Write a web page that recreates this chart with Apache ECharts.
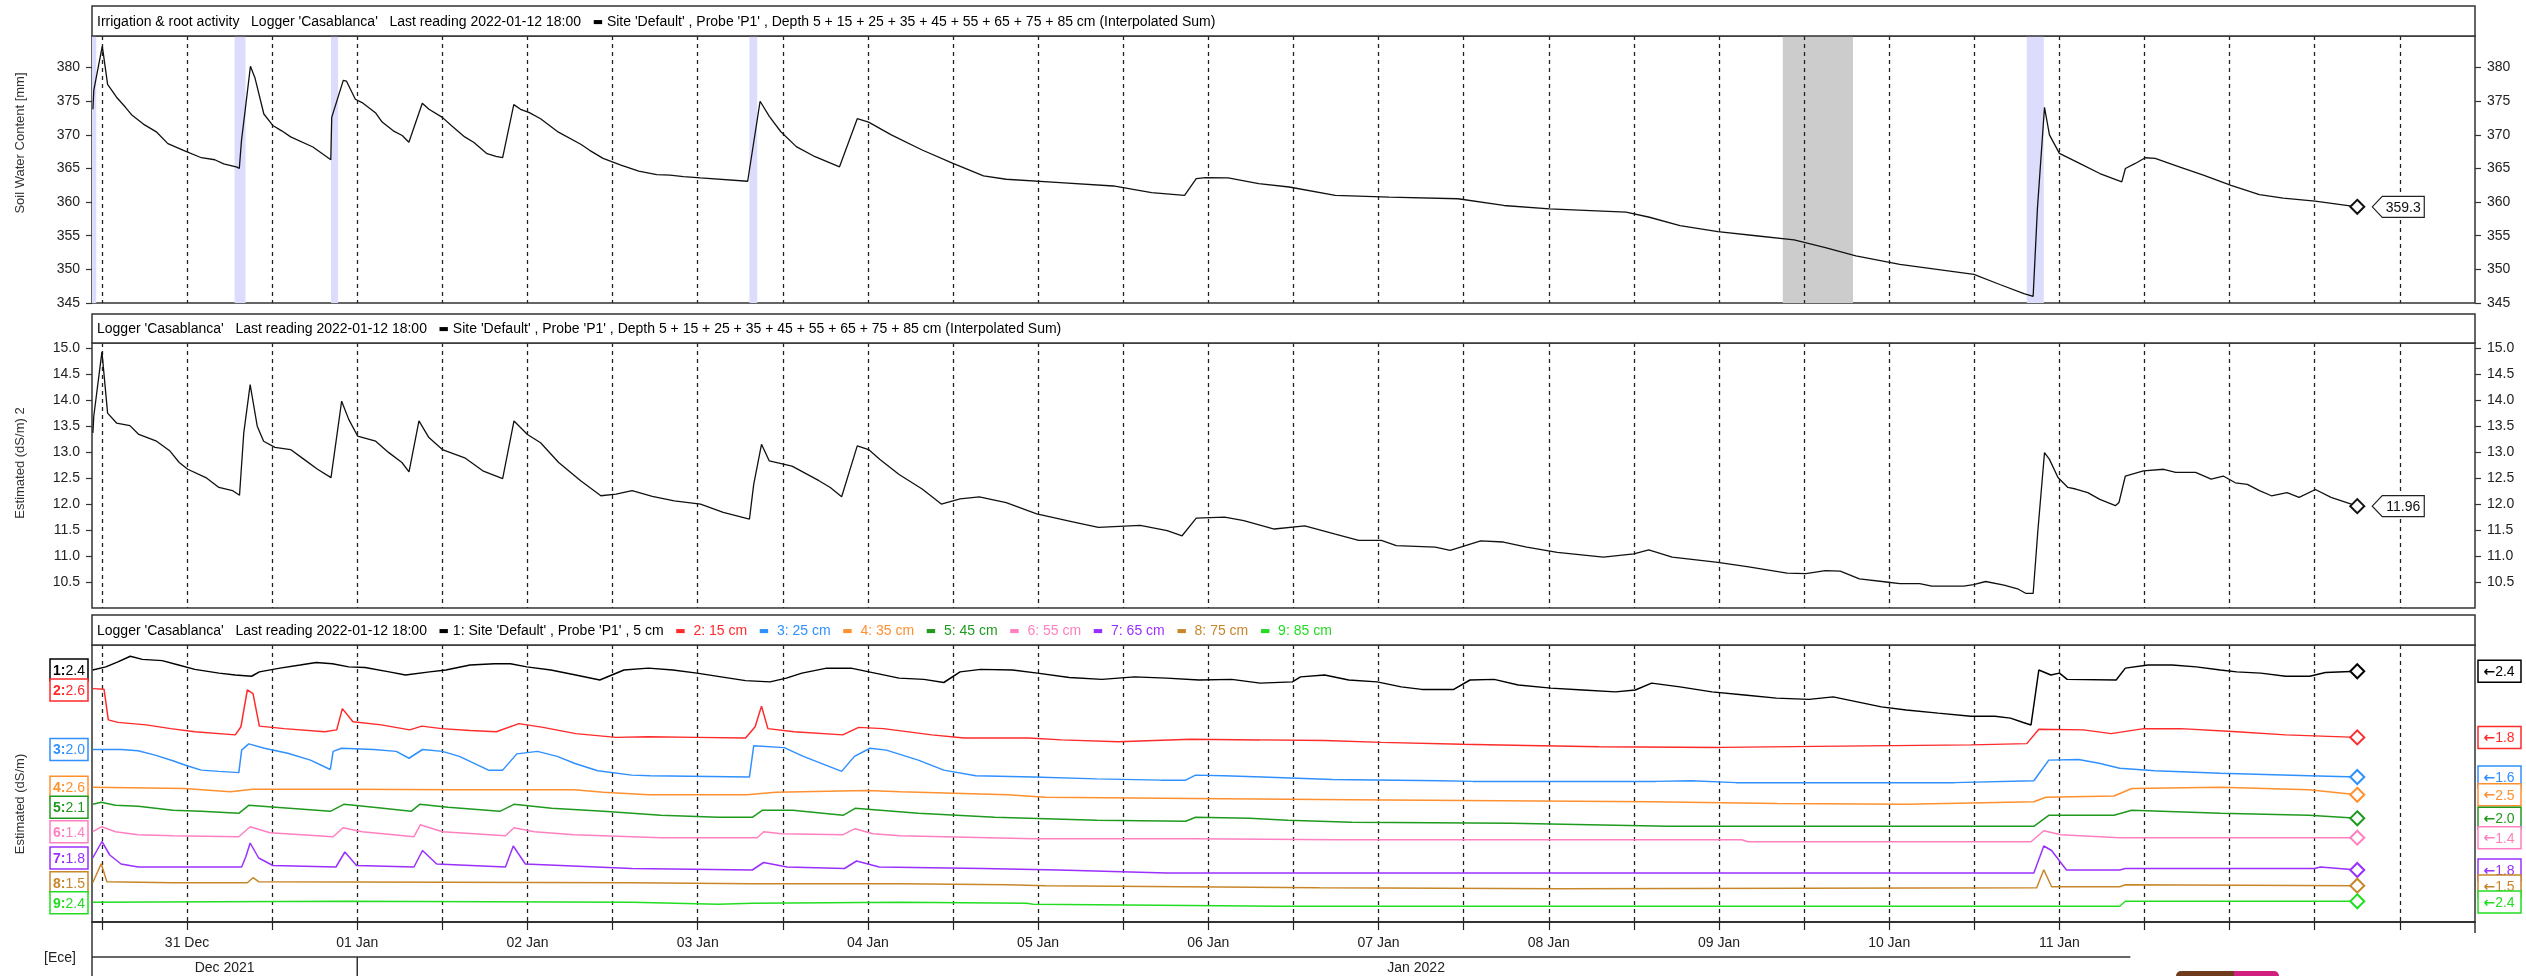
<!DOCTYPE html>
<html>
<head>
<meta charset="utf-8">
<script src="https://cdn.jsdelivr.net/npm/echarts@6/dist/echarts.min.js"></script>
<style>
html, body { margin: 0; padding: 0; background: #fff; }
#main { width: 2526px; height: 976px; }
</style>
</head>
<body>
<div id="main"></div>
<script>
// x values are hours counted from 2021-12-30 00:00
var xStartHour = 10.6, xEndHour = 346.6, lastHour = 330;
var gridHours = [];
for (var g = 12; g <= 336; g += 12) gridHours.push(g);
var dayLabels = ['31 Dec', '01 Jan', '02 Jan', '03 Jan', '04 Jan', '05 Jan', '06 Jan', '07 Jan', '08 Jan', '09 Jan', '10 Jan', '11 Jan'];
var dayLabelHours = [24, 48, 72, 96, 120, 144, 168, 192, 216, 240, 264, 288];
var monthLabels = ['Dec 2021', 'Jan 2022'];
var monthEdgeHours = [10.6, 48, 346.6];

// irrigation events (blue) and the grey period
var irrigationStart = [10.6, 30.7, 44.3, 103.3, 283.4];
var irrigationEnd = [11.2, 32.25, 45.3, 104.4, 285.8];
var greyStart = [249.0];
var greyEnd = [258.9];

// soil water content, sum of depths [mm]
var swcHours = [10.73,10.85,12.05,12.8,14.06,15.32,16.26,17.84,19.73,21.3,23.5,26.02,27.91,29.17,31.05,31.37,31.68,32.19,32.94,33.57,34.83,36.09,37.35,38.61,41.75,44.27,44.4,46.03,46.47,47.73,48.68,50.56,51.51,53.08,54.34,55.28,57.17,58.11,60.0,61.26,63.15,64.41,66.3,67.56,68.5,70.07,71.02,72.27,73.85,76.37,79.51,80.77,82.66,85.18,87.69,90.21,92.1,93.99,
  96.4,103.05,104.8,106.1,107.7,109.9,112.55,116.0,118.5,120.1,123.3,127.65,132.0,136.3,139.5,147.1,154.6,160.0,164.65,166.3,167.6,170.8,175.1,179.4,185.9,193.5,203.2,209.65,216.1,226.9,230.2,234.5,239.85,245.2,250.6,255.0,259.3,265.5,
  275.95,279.6,283.0,284.3,284.9,285.9,286.6,288.0,290.85,293.7,296.8,297.3,298.7,300.1,301.5,304.9,308.3,312.2,316.2,319.55,324.05,330];
var swcValues = [373.8,376.6,383.2,377.5,375.6,374.1,372.9,371.6,370.4,368.7,367.7,366.6,366.3,365.7,365.2,365.0,369.2,373.6,380.2,378.5,373.1,371.4,370.6,369.7,368.2,366.3,372.6,378.1,378.0,375.3,374.8,373.3,371.9,370.6,369.9,368.9,374.7,373.8,372.6,371.4,369.7,368.9,367.2,366.8,366.6,374.5,373.8,373.3,372.4,370.4,368.6,367.7,366.5,365.5,364.6,364.1,364.0,363.8,
  363.6,363.1,375.0,372.75,370.5,368.25,366.75,365.25,372.4,371.9,370.0,367.75,365.75,363.9,363.4,362.9,362.4,361.4,361.0,363.5,363.65,363.6,362.75,362.25,361.0,360.75,360.5,359.5,359.0,358.5,357.75,356.5,355.6,355.0,354.4,353.25,352.0,350.75,
  349.25,347.75,346.4,346.0,359.0,374.1,370.0,367.25,365.75,364.25,363.0,365.0,365.75,366.6,366.5,365.25,364.0,362.5,361.1,360.6,360.15,359.3];

// estimated EC, sum of depths [dS/m]
var ecHours = [10.73,10.85,12.0,12.8,14.06,15.95,17.2,19.7,21.6,22.9,24.1,26.65,28.5,30.4,31.4,32.0,32.9,33.9,34.8,36.4,38.6,40.5,42.4,44.3,45.8,46.8,48.05,50.6,52.45,54.3,55.3,56.7,58.1,60.0,63.15,65.7,68.5,70.1,72.0,73.85,76.4,79.5,82.35,84.5,86.75,89.6,92.7,
  96.4,99.6,103.3,103.9,105.0,106.1,109.3,113.1,114.7,116.3,118.5,120.1,121.7,124.4,127.65,130.35,133.0,135.7,139.5,143.8,149.2,152.5,158.4,162.2,164.3,166.3,170.3,173.0,177.3,181.6,185.9,189.2,192.4,194.5,200.0,202.1,206.4,209.6,212.9,217.2,223.7,228.0,230.1,233.4,239.85,244.2,249.6,252.25,255.0,257.1,259.8,263.6,
  265.5,268.3,270.0,274.5,275.9,277.6,280.2,282.1,283.3,284.3,284.95,285.9,286.6,287.8,289.2,290.3,292.0,293.7,295.9,296.4,297.3,299.85,302.7,304.4,307.2,309.4,311.1,312.8,314.5,316.2,317.9,320.1,321.8,324.1,326.3,330];
var ecValues = [13.37,13.69,14.93,13.75,13.56,13.51,13.34,13.21,13.02,12.8,12.67,12.51,12.32,12.26,12.17,13.37,14.30,13.5,13.21,13.09,13.05,12.86,12.67,12.51,13.98,13.63,13.31,13.21,12.99,12.8,12.62,13.6,13.28,13.05,12.89,12.64,12.49,13.6,13.34,13.18,12.8,12.45,12.16,12.19,12.26,12.15,12.06,
  12.0,11.84,11.71,12.38,13.15,12.83,12.73,12.45,12.32,12.14,13.12,13.05,12.86,12.57,12.29,12.0,12.1,12.14,12.03,11.81,11.65,11.55,11.59,11.49,11.39,11.73,11.75,11.68,11.52,11.58,11.42,11.3,11.3,11.2,11.17,11.11,11.29,11.27,11.17,11.07,10.98,11.04,11.12,10.98,10.88,10.79,10.67,10.66,10.72,10.71,10.56,10.5,
  10.47,10.47,10.42,10.42,10.45,10.51,10.44,10.37,10.28,10.28,11.46,12.99,12.86,12.51,12.32,12.29,12.22,12.09,11.97,12.03,12.54,12.64,12.67,12.61,12.61,12.48,12.54,12.41,12.38,12.26,12.16,12.22,12.13,12.28,12.13,11.96];

// estimated EC per depth [dS/m]
var depthCm = [5, 15, 25, 35, 45, 55, 65, 75, 85];
var d5Hours = [10.7,12.55,14.25,16.0,17.7,20.5,22.8,25.1,28.5,30.8,33.1,34.2,37.1,39.95,42.2,44.5,46.8,49.1,52.5,54.8,58.2,60.5,63.9,67.35,69.6,71.9,75.3,78.8,82.2,85.6,89.05,92.5,95.9,99.3,102.75,106.2,108.5,110.7,114.2,117.6,121.0,124.4,127.9,130.7,133.0,135.9,140.4,143.9,148.4,153.0,157.6,162.1,166.7,171.3,
  175.3,179.85,181.0,184.4,187.8,191.8,195.2,198.1,202.6,204.9,208.3,211.7,216.3,220.8,225.4,228.2,230.5,234.5,239.0,243.6,248.1,252.7,256.1,259.5,262.9,266.4,270.9,275.5,278.9,281.1,282.9,284.0,285.1,286.8,288.0,289.1,296.0,297.3,300.5,303.9,307.3,310.7,313.0,316.4,319.9,323.3,325.5,330];
var d5Values = [2.40,2.45,2.53,2.62,2.57,2.55,2.48,2.41,2.35,2.32,2.30,2.37,2.43,2.48,2.52,2.50,2.45,2.44,2.37,2.32,2.37,2.40,2.48,2.50,2.50,2.45,2.40,2.32,2.24,2.40,2.43,2.40,2.35,2.29,2.23,2.21,2.27,2.35,2.43,2.43,2.35,2.27,2.25,2.20,2.37,2.41,2.40,2.35,2.28,2.25,2.29,2.27,2.24,2.25,
  2.19,2.21,2.29,2.32,2.24,2.21,2.13,2.09,2.09,2.24,2.25,2.16,2.11,2.08,2.05,2.08,2.19,2.13,2.05,2.0,1.95,1.93,1.97,1.89,1.81,1.76,1.71,1.66,1.66,1.63,1.56,1.52,2.40,2.32,2.35,2.25,2.24,2.43,2.48,2.48,2.45,2.40,2.37,2.35,2.30,2.30,2.36,2.38];
var d15Hours = [10.7,12.3,12.9,14.25,18.25,21.7,25.1,30.8,31.6,32.5,33.3,34.2,37.7,43.4,45.1,45.9,47.4,51.4,55.4,57.1,59.9,63.9,67.6,70.8,74.2,78.8,84.5,89.05,95.9,102.75,104.1,105.0,105.9,109.6,116.45,118.7,122.2,129.0,133.6,142.7,147.3,155.3,165.5,
  175.3,184.4,192.4,203.75,212.9,223.1,240.2,257.2,275.5,283.4,285.1,291.4,295.3,299.9,305.1,313.0,319.9,330];
var d15Values = [2.59,2.58,2.09,2.05,2.01,1.95,1.90,1.85,1.98,2.57,2.51,1.99,1.95,1.90,1.93,2.27,2.06,2.01,1.93,1.99,1.95,1.92,1.90,2.03,1.97,1.87,1.81,1.82,1.81,1.80,1.98,2.31,1.95,1.90,1.85,1.97,1.95,1.85,1.80,1.80,1.77,1.74,1.78,
  1.77,1.76,1.73,1.70,1.68,1.66,1.65,1.67,1.69,1.71,1.94,1.93,1.87,1.95,1.95,1.90,1.85,1.81];
var d25Hours = [10.7,14.7,17.1,19.5,22.0,24.0,26.0,28.5,31.3,31.7,32.7,34.9,38.2,41.4,44.2,44.6,45.8,50.3,53.5,55.3,57.2,60.0,62.4,66.5,68.5,70.5,73.4,76.2,78.6,81.9,86.7,89.3,103.3,103.9,108.2,110.9,116.3,118.1,120.3,122.6,127.1,130.7,135.2,143.3,152.3,161.3,164.8,166.2,170.2,175.6,185.5,200.8,205.3,223.2,231.1,236.1,242.4,273.2,284.4,286.5,290.7,293.6,296.5,301.5,310.7,323.2,330];
var d25Values = [2.04,2.04,2.02,1.95,1.86,1.78,1.71,1.69,1.67,2.03,2.13,2.06,1.98,1.87,1.72,2.01,2.06,2.04,2.01,1.90,2.04,2.01,1.93,1.71,1.71,1.97,2.01,1.93,1.82,1.70,1.63,1.62,1.60,2.10,2.07,1.93,1.69,1.93,2.06,2.03,1.87,1.71,1.62,1.60,1.57,1.55,1.55,1.63,1.62,1.60,1.56,1.54,1.53,1.53,1.53,1.54,1.51,1.51,1.54,1.87,1.88,1.82,1.74,1.70,1.66,1.62,1.60];
var d35Hours = [10.7,23.6,30.1,33.3,46.3,62.4,78.6,82.7,89.1,102.9,107.0,119.9,124.6,139.7,145.1,165.7,188.2,230.3,248.2,266.5,284.4,286.1,295.7,298.2,310.7,323.2,330];
var d35Values = [2.60,2.58,2.53,2.57,2.57,2.56,2.56,2.52,2.48,2.48,2.52,2.55,2.53,2.48,2.44,2.42,2.40,2.37,2.34,2.33,2.37,2.44,2.46,2.58,2.60,2.56,2.48];
var d45Hours = [10.7,11.9,13.9,17.1,22.0,26.0,31.3,32.7,36.5,44.2,46.1,50.3,55.6,56.8,60.8,68.1,70.1,75.4,82.7,90.8,98.9,103.7,105.1,109.4,116.5,118.2,127.1,137.9,152.3,164.8,166.2,173.8,179.2,188.2,210.7,232.8,264.9,284.4,286.5,295.7,298.2,310.7,323.2,330];
var d45Values = [2.11,2.13,2.10,2.09,2.05,2.04,2.02,2.10,2.08,2.04,2.11,2.08,2.04,2.11,2.08,2.04,2.11,2.07,2.04,2.00,1.98,1.98,2.05,2.05,2.00,2.07,2.02,1.98,1.95,1.94,1.98,1.97,1.95,1.93,1.92,1.89,1.89,1.89,2.00,2.00,2.05,2.02,2.00,1.97];
var d55Hours = [10.7,12.0,13.9,17.1,22.0,31.3,32.9,35.7,44.6,46.0,48.7,56.0,56.9,60.0,68.9,70.1,73.0,78.6,90.8,104.4,105.3,107.8,116.5,118.2,120.7,124.6,143.3,165.7,186.4,243.2,244.1,284.0,285.8,288.2,296.5,330];
var d55Values = [1.43,1.48,1.43,1.40,1.39,1.38,1.48,1.42,1.38,1.47,1.43,1.38,1.50,1.43,1.39,1.47,1.43,1.40,1.37,1.37,1.43,1.41,1.40,1.46,1.41,1.39,1.36,1.36,1.35,1.35,1.33,1.33,1.44,1.40,1.37,1.37];
var d65Hours = [10.7,12.0,13.1,14.7,17.1,31.7,32.3,32.9,34.1,36.1,45.0,46.25,47.9,56.0,57.2,59.2,68.9,70.0,71.7,86.7,103.7,105.3,108.6,116.7,118.4,121.6,136.1,146.9,162.1,233.2,284.4,285.8,286.9,289.0,296.5,297.3,324.0,324.8,330];
var d65Values = [1.84,1.95,1.86,1.80,1.78,1.78,1.85,1.94,1.84,1.79,1.78,1.88,1.79,1.78,1.89,1.80,1.78,1.92,1.80,1.77,1.76,1.81,1.78,1.77,1.82,1.78,1.77,1.76,1.74,1.74,1.74,1.92,1.89,1.76,1.76,1.77,1.77,1.78,1.76];
var d75Hours = [10.7,11.9,12.7,22.0,32.5,33.3,34.1,86.7,103.7,124.6,139.7,145.1,183.7,217.9,284.8,285.8,286.9,296.5,297.3,330];
var d75Values = [1.52,1.71,1.53,1.52,1.52,1.57,1.53,1.52,1.51,1.51,1.50,1.49,1.47,1.46,1.47,1.65,1.48,1.48,1.50,1.49];
var d85Hours = [10.7,46.3,86.7,98.9,103.7,124.6,142.4,143.3,178.3,230.3,296.5,297.3,330];
var d85Values = [2.40,2.41,2.40,2.38,2.39,2.40,2.39,2.38,2.36,2.36,2.36,2.41,2.41];

var depthHours = [d5Hours, d15Hours, d25Hours, d35Hours, d45Hours, d55Hours, d65Hours, d75Hours, d85Hours];
var depthValues = [d5Values, d15Values, d25Values, d35Values, d45Values, d55Values, d65Values, d75Values, d85Values];

// look of the chart
var depthColors = ['#000000', '#ff2a2a', '#3090ff', '#ff9030', '#1f9a1f', '#ff80c0', '#9a30ff', '#c8862a', '#22dd22'];
var depthAxisTop = [2.8, 3.288, 3.712, 4.877, 3.703, 3.297, 3.26, 3.897, 4.973];
var depthPxPerUnit = [62.5, 62.5, 62.5, 62.5, 100, 100, 150, 100, 100];

var font = "'Liberation Sans', Arial, sans-serif";
var plotLeft = 92, plotRight = 2475;
var panelTops = [6, 314, 615];
var plotTops = [36, 343, 645];
var plotBottoms = [303, 608, 922];

function pairs(hours, values) {
  return hours.map(function (h, i) { return [h, values[i]]; });
}
function lastSymbol(n) {
  return function (value, params) { return params.dataIndex === n - 1 ? 'emptyDiamond' : 'none'; };
}

var chart = echarts.init(document.getElementById('main'));

var grids = [0, 1, 2].map(function (i) {
  return {
    left: plotLeft, width: plotRight - plotLeft, top: plotTops[i], height: plotBottoms[i] - plotTops[i],
    show: true, borderColor: '#333', borderWidth: 1.5, backgroundColor: 'transparent', outerBoundsMode: 'none'
  };
});

var xAxes = [0, 1, 2].map(function (i) {
  return {
    type: 'value', gridIndex: i, min: xStartHour, max: xEndHour, z: 2,
    axisLine: { show: i === 2, onZero: false, lineStyle: { color: '#222', width: 1.5 } },
    axisTick: { show: i === 2, length: 8, customValues: gridHours, lineStyle: { color: '#222', width: 1.2 } },
    axisLabel: {
      show: i === 2, customValues: dayLabelHours, fontSize: 14, fontFamily: font, color: '#222', margin: 14,
      formatter: function (v) {
        var k = dayLabelHours.indexOf(Math.round(v));
        return k >= 0 ? dayLabels[k] : '';
      }
    },
    splitLine: { show: true, lineStyle: { color: '#222', width: 1.3, type: [4, 4] } }
  };
});

function valueAxis(grid, pos, min, max, interval, digits) {
  return {
    type: 'value', gridIndex: grid, position: pos, min: min, max: max, interval: interval,
    axisLine: { show: false },
    axisTick: { show: true, length: 6, lineStyle: { color: '#333', width: 1.2 } },
    axisLabel: {
      fontSize: 14, fontFamily: font, color: '#222', margin: 12, showMaxLabel: false,
      showMinLabel: digits === 0,
      formatter: function (v) { return v.toFixed(digits); }
    },
    splitLine: { show: false }
  };
}

var yAxes = [
  valueAxis(0, 'left', 345, 384.7, 5, 0),
  valueAxis(0, 'right', 345, 384.7, 5, 0),
  valueAxis(1, 'left', 10, 15.1, 0.5, 1),
  valueAxis(1, 'right', 10, 15.1, 0.5, 1)
];
var plotH = plotBottoms[2] - plotTops[2];
depthCm.forEach(function (d, k) {
  yAxes.push({
    type: 'value', gridIndex: 2, show: false,
    max: depthAxisTop[k], min: depthAxisTop[k] - plotH / depthPxPerUnit[k]
  });
});

var series = [
  {
    type: 'line', xAxisIndex: 0, yAxisIndex: 0, data: pairs(swcHours, swcValues), z: 4,
    symbol: lastSymbol(swcHours.length), symbolSize: 14, showSymbol: true,
    lineStyle: { color: '#111', width: 1.3 }, itemStyle: { color: '#111', borderWidth: 1.2 }
  },
  {
    type: 'line', xAxisIndex: 1, yAxisIndex: 2, data: pairs(ecHours, ecValues), z: 4,
    symbol: lastSymbol(ecHours.length), symbolSize: 14, showSymbol: true,
    lineStyle: { color: '#111', width: 1.3 }, itemStyle: { color: '#111', borderWidth: 1.2 }
  }
];
depthCm.forEach(function (d, k) {
  series.push({
    type: 'line', xAxisIndex: 2, yAxisIndex: 4 + k, data: pairs(depthHours[k], depthValues[k]), z: 4,
    symbol: lastSymbol(depthHours[k].length), symbolSize: 14, showSymbol: true,
    lineStyle: { color: depthColors[k], width: 1.5 }, itemStyle: { color: depthColors[k], borderWidth: 1.2 }
  });
});

var bands = [];
irrigationStart.forEach(function (s, i) {
  bands.push([{ xAxis: s, itemStyle: { color: '#dcdcfc' } }, { xAxis: irrigationEnd[i] }]);
});
greyStart.forEach(function (s, i) {
  bands.push([{ xAxis: s, itemStyle: { color: '#cccccc' } }, { xAxis: greyEnd[i] }]);
});
series.push({
  type: 'line', xAxisIndex: 0, yAxisIndex: 0, data: [], z: 1, silent: true,
  markArea: { silent: true, z: 1, data: bands }
});

chart.setOption({
  animation: false,
  backgroundColor: '#fff',
  grid: grids,
  xAxis: xAxes,
  yAxis: yAxes,
  series: series
});

// ---- texts, boxes and callouts placed through the chart's own scales ----
var gfx = [];
function txt(x, y, text, extra) {
  var style = { text: text, fontSize: 14, fontFamily: font, fill: '#000', verticalAlign: 'middle', align: 'left' };
  for (var k in extra) style[k] = extra[k];
  return { type: 'text', x: x, y: y, z: 30, style: style };
}

var mark = { fontFamily: 'DejaVu Sans', fontSize: 11, fill: '#000' };
var head = "Logger 'Casablanca'   Last reading 2022-01-12 18:00   ";
var sumText = "{k|\u25AC} Site 'Default' , Probe 'P1' , Depth " + depthCm.join(' + ') + " cm (Interpolated Sum)";
var titles = ['Irrigation & root activity   ' + head + sumText, head + sumText];
var rich3 = { k: mark };
var t3 = head + "{k|\u25AC} 1: Site 'Default' , Probe 'P1' , " + depthCm[0] + ' cm';
for (var k = 1; k < depthCm.length; k++) {
  rich3['m' + k] = { fontFamily: 'DejaVu Sans', fontSize: 11, fill: depthColors[k] };
  rich3['c' + k] = { fontFamily: font, fontSize: 14, fill: depthColors[k] };
  t3 += '   {m' + k + '|\u25AC}  {c' + k + '|' + (k + 1) + ': ' + depthCm[k] + ' cm}';
}
titles.push(t3);

for (var i = 0; i < 3; i++) {
  gfx.push({
    type: 'rect', z: 20,
    shape: { x: plotLeft, y: panelTops[i], width: plotRight - plotLeft, height: plotTops[i] - panelTops[i] },
    style: { fill: '#fff', stroke: '#333', lineWidth: 1.5 }
  });
  gfx.push(txt(97, (panelTops[i] + plotTops[i]) / 2 + 1, titles[i], { rich: i === 2 ? rich3 : { k: mark } }));
}

// axis names
var axisNames = ['Soil Water Content [mm]', 'Estimated (dS/m) 2', 'Estimated (dS/m)'];
var axisNameY = [143, 463, 804];
axisNames.forEach(function (n, i) {
  var t = txt(20, axisNameY[i], n, { fontSize: 13, fill: '#333', align: 'center' });
  t.rotation = Math.PI / 2;
  gfx.push(t);
});

// last-reading callouts on the two sum panels
[[0, swcValues, 1], [1, ecValues, 2]].forEach(function (c) {
  var vals = c[1];
  var p = chart.convertToPixel({ seriesIndex: c[0] }, [lastHour, vals[vals.length - 1]]);
  var x = p[0], y = p[1];
  gfx.push({
    type: 'polygon', z: 25,
    shape: { points: [[x + 15, y], [x + 25, y - 10.5], [x + 67, y - 10.5], [x + 67, y + 10.5], [x + 25, y + 10.5]] },
    style: { fill: '#fff', stroke: '#222', lineWidth: 1.2 }
  });
  gfx.push(txt(x + 46, y + 1, vals[vals.length - 1].toFixed(c[2]), { align: 'center', fill: '#111' }));
});

// value boxes of each depth (first reading on the left, last reading on the right)
var prevL = -1e9, prevR = -1e9;
depthCm.forEach(function (d, k) {
  var hs = depthHours[k], vs = depthValues[k], col = depthColors[k];
  var v0 = vs[0], v1 = vs[vs.length - 1];
  var yl = chart.convertToPixel({ seriesIndex: 2 + k }, [hs[0], v0])[1];
  var yr = chart.convertToPixel({ seriesIndex: 2 + k }, [hs[hs.length - 1], v1])[1];
  yl = Math.max(yl, prevL + 20); prevL = yl;
  yr = Math.max(yr, prevR + 16); prevR = yr;
  gfx.push({ type: 'rect', z: 40 + k, shape: { x: 50, y: yl - 11, width: 38, height: 22 }, style: { fill: '#fff', stroke: col, lineWidth: 1.5 } });
  var tl = txt(69, yl + 1, '{b|' + (k + 1) + ':}' + v0.toFixed(1), {
    align: 'center', fill: col, rich: { b: { fontFamily: font, fontSize: 14, fontWeight: 'bold', fill: col } }
  });
  tl.z = 40 + k;
  gfx.push(tl);
  gfx.push({ type: 'rect', z: 40 + k, shape: { x: 2478, y: yr - 11, width: 43, height: 22 }, style: { fill: '#fff', stroke: col, lineWidth: 1.5 } });
  var tr = txt(2499, yr + 1, '{a|\u2190}' + v1.toFixed(1), {
    align: 'center', fill: col, rich: { a: { fontFamily: 'DejaVu Sans', fontSize: 14, fontWeight: 'bold', fill: col } }
  });
  tr.z = 40 + k;
  gfx.push(tr);
});

// lower time scale: months
var xPix = function (h) { return chart.convertToPixel({ xAxisIndex: 2 }, h); };
monthLabels.forEach(function (m, i) {
  var cx = (xPix(monthEdgeHours[i]) + xPix(monthEdgeHours[i + 1])) / 2;
  gfx.push(txt(cx, 968, m, { align: 'center', fill: '#222' }));
});
var sep = xPix(48);
gfx.push({ type: 'line', z: 20, shape: { x1: plotLeft, y1: 922, x2: plotLeft, y2: 976 }, style: { stroke: '#333', lineWidth: 1.5 } });
gfx.push({ type: 'line', z: 20, shape: { x1: plotLeft, y1: 957, x2: xPix(298), y2: 957 }, style: { stroke: '#333', lineWidth: 1.5 } });
gfx.push({ type: 'line', z: 20, shape: { x1: sep, y1: 957, x2: sep, y2: 976 }, style: { stroke: '#333', lineWidth: 1.5 } });
gfx.push({ type: 'line', z: 20, shape: { x1: plotRight, y1: 922, x2: plotRight, y2: 933 }, style: { stroke: '#333', lineWidth: 1.5 } });
gfx.push(txt(60, 958, '[Ece]', { align: 'center', fill: '#222' }));

// cut-off buttons at the bottom edge
gfx.push({ type: 'rect', z: 20, shape: { x: 2176, y: 971, width: 60, height: 10, r: [5, 0, 0, 0] }, style: { fill: '#6e3c1c' } });
gfx.push({ type: 'rect', z: 20, shape: { x: 2234, y: 971, width: 45, height: 10, r: [0, 5, 0, 0] }, style: { fill: '#d01f7c' } });

chart.setOption({ graphic: gfx });

window.addEventListener('resize', function () { chart.resize(); });
</script>
</body>
</html>
